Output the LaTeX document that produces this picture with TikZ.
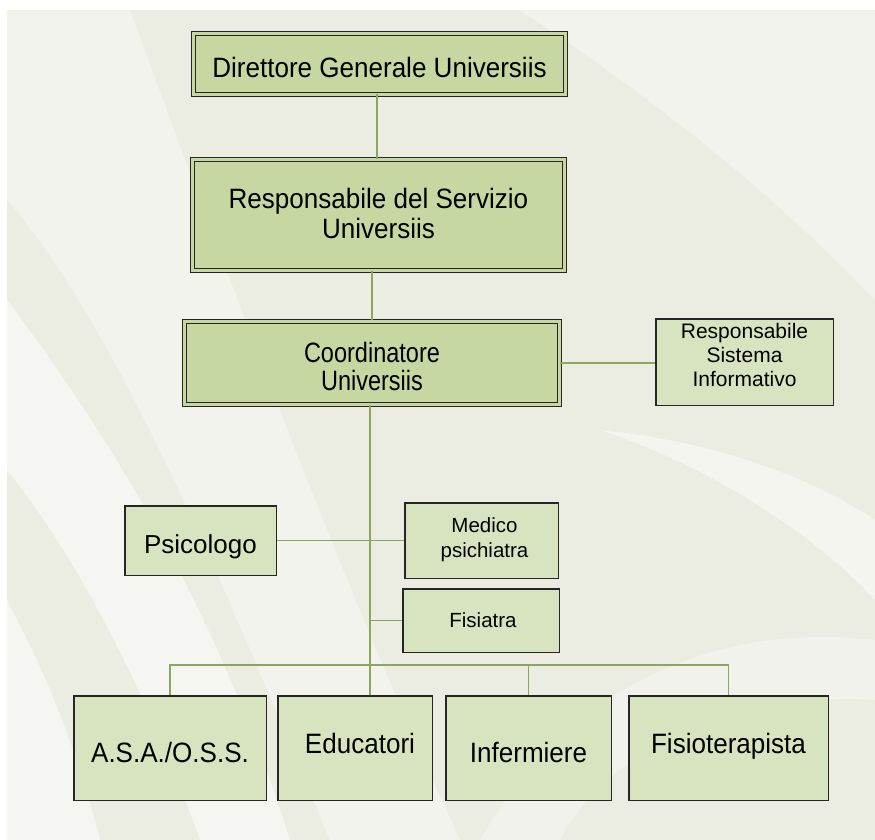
\documentclass[tikz,border=0pt]{standalone}
\usepackage{fontspec}
\setmainfont{Liberation Sans}
\newfontfamily\fbig[FakeStretch=0.93]{Liberation Sans}
\newfontfamily\fcond[FakeStretch=0.84]{Liberation Sans}
\definecolor{bgc}{HTML}{EBEDE3}
\definecolor{darkfill}{HTML}{C6D7A1}
\definecolor{lightfill}{HTML}{D8E4C0}
\definecolor{edge}{HTML}{262626}
\definecolor{conn}{HTML}{8CA65B}
\tikzset{
  dbox/.style={draw=edge, fill=darkfill, line width=1.3pt, double=darkfill, double distance=2.4pt, inner sep=0pt, align=center, text depth=0pt},
  sbox/.style={draw=edge, fill=lightfill, line width=1.5pt, inner sep=0pt, align=center, text depth=0pt},
  link/.style={draw=conn, line width=1.8pt}
}
\begin{document}
\begin{tikzpicture}[x=1pt,y=-1pt]
\useasboundingbox (0,0) rectangle (875,840);
% background
\fill[bgc] (7,10) rectangle (875,840);
\begin{scope}
\clip (7,10) rectangle (875,840);
\fill[white,opacity=0.35] (7,10) -- (130,10) .. controls (200,200) and (330,560) .. (460,840) -- (330,840) .. controls (230,600) and (120,330) .. (7,200) -- cycle;
\fill[white,opacity=0.55] (7,300) .. controls (120,450) and (220,620) .. (290,840) -- (200,840) .. controls (150,700) and (80,560) .. (7,470) -- cycle;
\fill[white,opacity=0.5] (7,600) .. controls (50,680) and (80,760) .. (100,840) -- (7,840) -- cycle;
\fill[white,opacity=0.35] (520,10) -- (875,10) -- (875,300) .. controls (760,180) and (640,90) .. (520,10) -- cycle;
\fill[white,opacity=0.45] (600,430) .. controls (720,470) and (820,540) .. (875,600) -- (875,520) .. controls (800,470) and (700,440) .. (600,430) -- cycle;
\fill[white,opacity=0.3] (480,840) .. controls (560,700) and (700,620) .. (875,640) -- (875,700) .. controls (720,690) and (600,760) .. (560,840) -- cycle;
\end{scope}
% boxes
\node[dbox, minimum width=372pt, minimum height=61pt, font=\fbig\fontsize{28}{30}\selectfont, text height=28pt] (dir) at (379.5,64) {Direttore Generale Universiis};
\node[dbox, minimum width=372pt, minimum height=111pt, font=\fbig\fontsize{28}{30}\selectfont, text height=46pt] (resp) at (378.5,215) {Responsabile del Servizio\\Universiis};
\node[dbox, minimum width=375pt, minimum height=83pt, font=\fcond\fontsize{28}{28}\selectfont, text height=54pt] (coord) at (372,363) {Coordinatore\\Universiis};
\node[sbox, minimum width=177.5pt, minimum height=86.5pt, font=\fontsize{21}{24}\selectfont, text height=48pt] (rsi) at (744.5,362) {Responsabile\\Sistema\\Informativo};
\node[sbox, minimum width=151.5pt, minimum height=69.5pt, font=\fontsize{26}{28}\selectfont, text height=25pt] (psi) at (200.5,540.5) {Psicologo};
\node[sbox, minimum width=153.5pt, minimum height=75.5pt, font=\fontsize{20.5}{25}\selectfont, text height=33pt] (med) at (481.5,540.5) {\kern6pt Medico\\\kern6pt psichiatra};
\node[sbox, minimum width=156.5pt, minimum height=63.5pt, font=\fontsize{20.5}{24}\selectfont, text height=13pt] (fis) at (481,620.5) {\kern4pt Fisiatra};
\node[sbox, minimum width=192.5pt, minimum height=104.5pt, font=\fbig\fontsize{28}{30}\selectfont, text height=28pt] (asa) at (170,748) {A.S.A./O.S.S.};
\node[sbox, minimum width=154.5pt, minimum height=104.5pt, font=\fbig\fontsize{28}{30}\selectfont, text height=10pt] (edu) at (355,748) {\kern10pt Educatori};
\node[sbox, minimum width=165.5pt, minimum height=104.5pt, font=\fbig\fontsize{28}{30}\selectfont, text height=28pt] (inf) at (528.5,748) {Infermiere};
\node[sbox, minimum width=199.5pt, minimum height=104.5pt, font=\fbig\fontsize{28}{30}\selectfont, text height=10pt] (fisio) at (728.5,748) {Fisioterapista};
% connectors
\coordinate (vtop) at ([xshift=-2.5pt]dir.south);
\draw[link] ([yshift=1pt]vtop) -- (vtop |- resp.north);
\draw[link] ([yshift=1pt]coord.north) -- (coord.north |- resp.south);
\draw[link] (coord.east) -- (coord.east -| rsi.west);
\coordinate (mtop) at ([xshift=-2pt]coord.south);
\draw[link] (mtop) -- (mtop |- edu.north);
\draw[link] (psi.east) -- (psi.east -| med.west);
\draw[link] (mtop |- fis.west) -- (fis.west);
\coordinate (bus) at (0,665);
\draw[link] (asa.north) -- (asa.north |- bus) -| (fisio.north);
\draw[link] (inf.north) -- (inf.north |- bus);
\end{tikzpicture}
\end{document}
